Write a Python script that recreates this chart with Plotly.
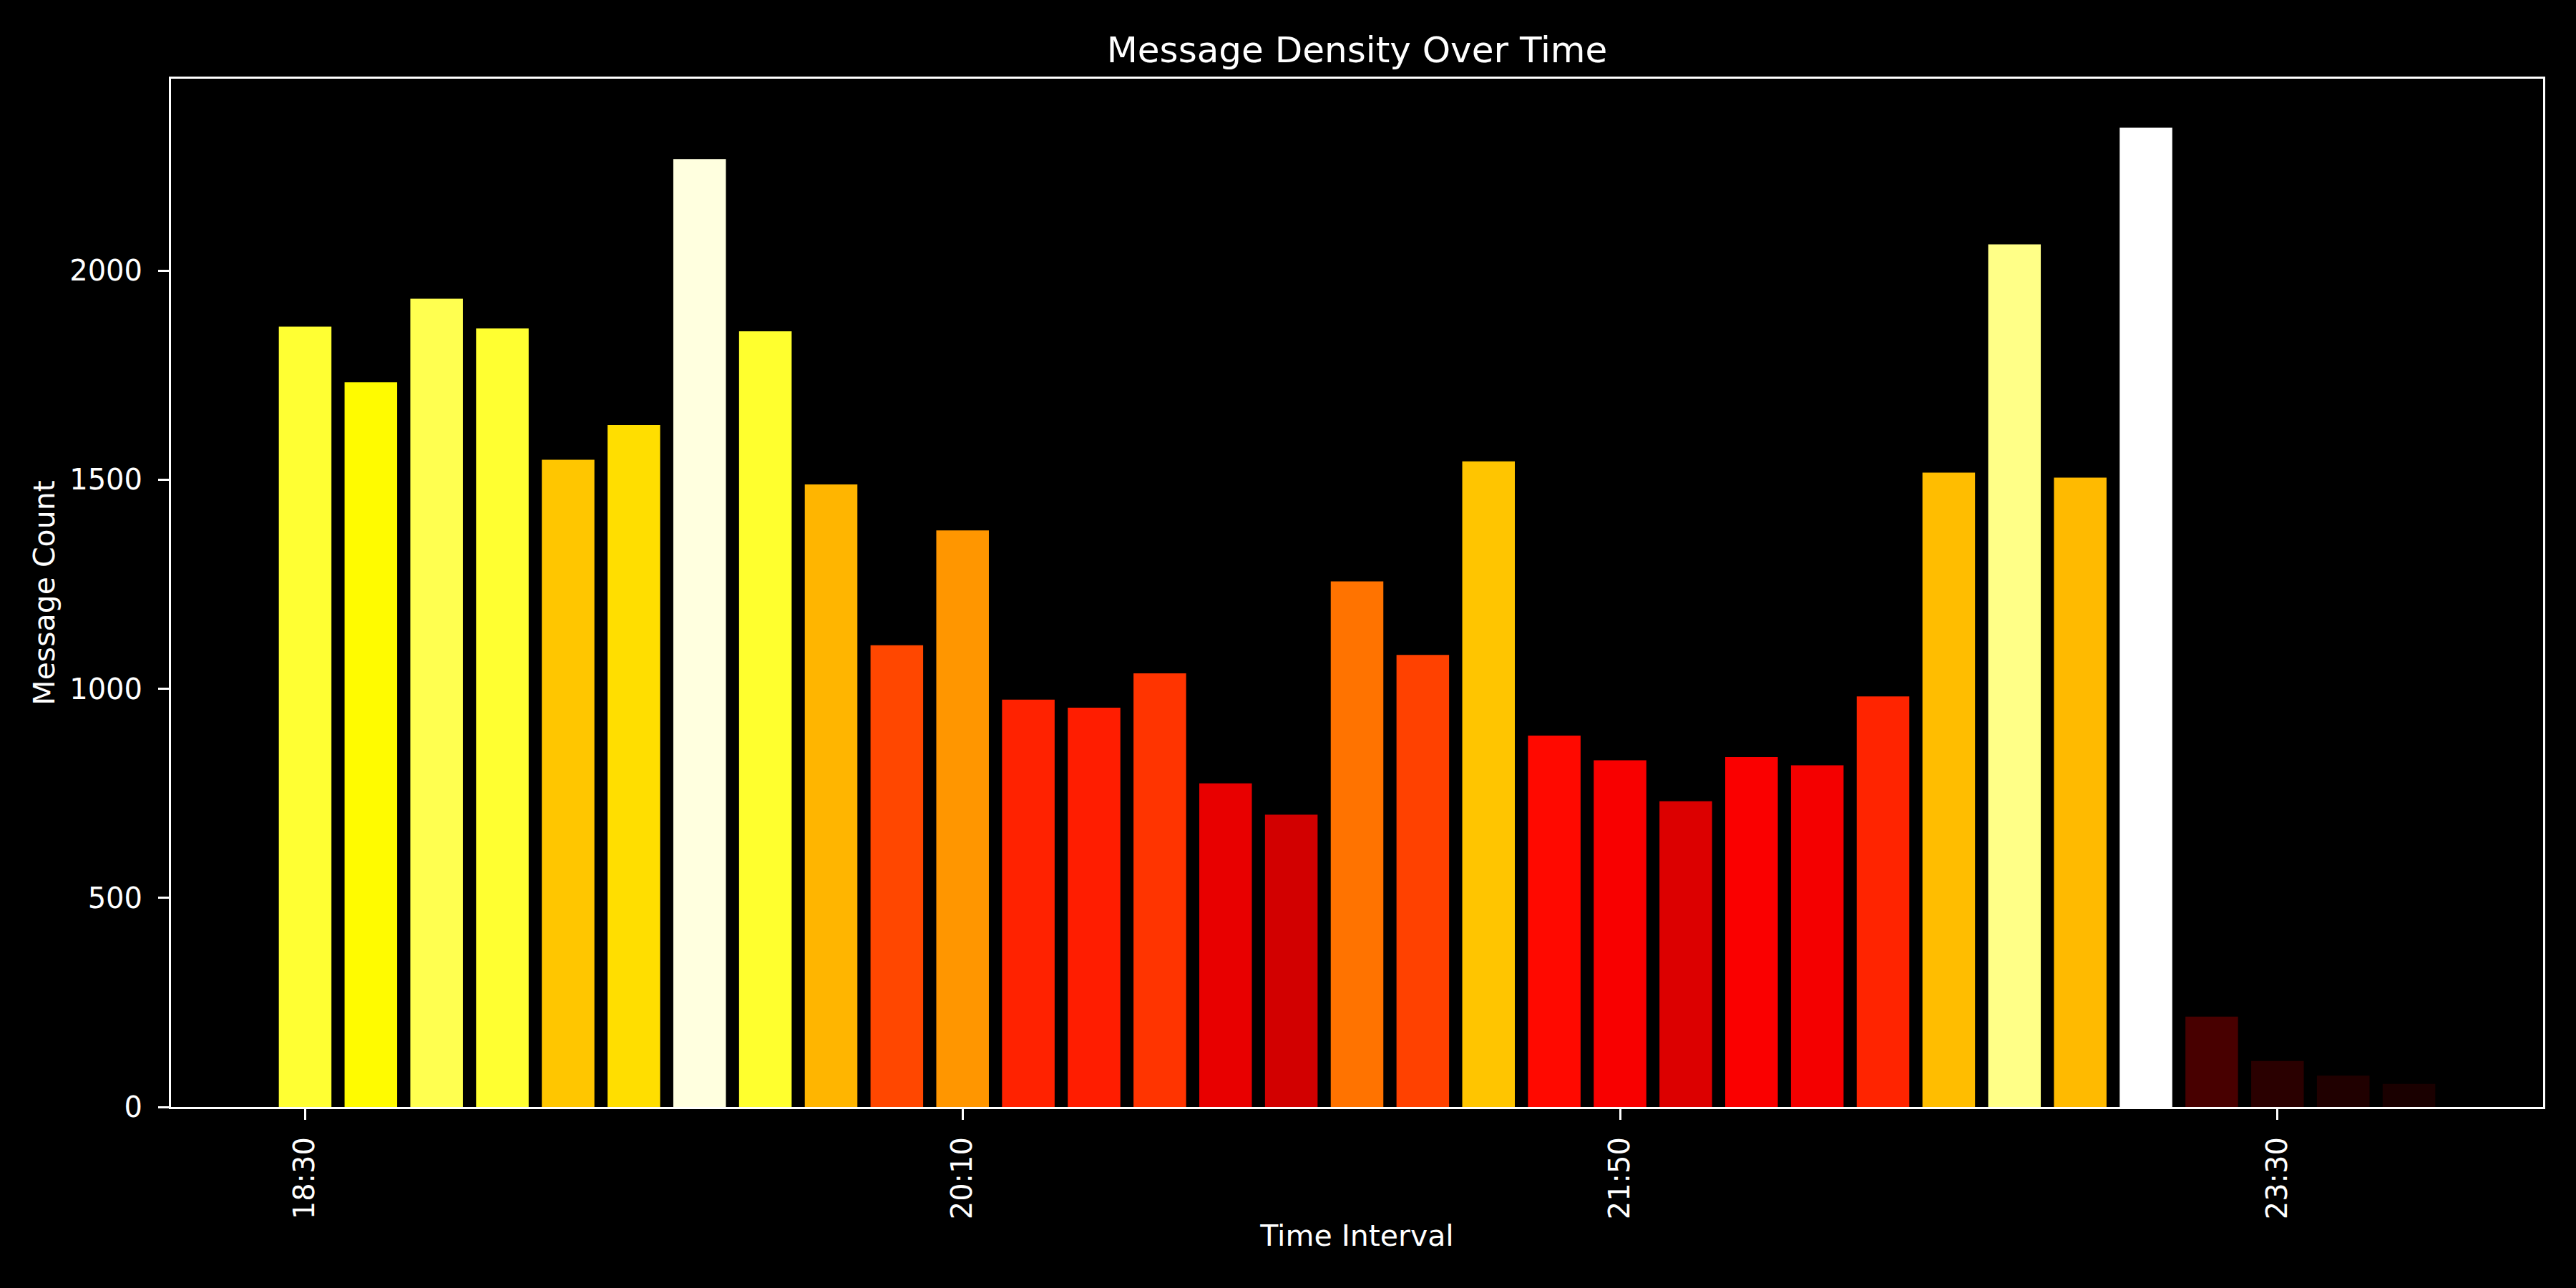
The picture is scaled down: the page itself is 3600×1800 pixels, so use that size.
"""Message density bar chart, hot colormap on a black background."""

import plotly.graph_objects as go

TIME_LABELS = [
    "18:30", "18:40", "18:50", "19:00", "19:10", "19:20", "19:30", "19:40",
    "19:50", "20:00", "20:10", "20:20", "20:30", "20:40", "20:50", "21:00",
    "21:10", "21:20", "21:30", "21:40", "21:50", "22:00", "22:10", "22:20",
    "22:30", "22:40", "22:50", "23:00", "23:10", "23:20", "23:30", "23:40",
    "23:50",
]
MESSAGE_COUNTS = [
    1866, 1733, 1933, 1862, 1548, 1631, 2267, 1855, 1489, 1104, 1379,
    974, 955, 1037, 774, 699, 1257, 1081, 1544, 888, 829, 731, 837, 817,
    982, 1517, 2063, 1505, 2342, 216, 110, 75, 55,
]
TICK_LABELS = ["18:30", "20:10", "21:50", "23:30"]

FONT = "DejaVu Sans"


def _interp(x, points):
    for (x0, y0), (x1, y1) in zip(points, points[1:]):
        if x <= x1:
            return y0 + (y1 - y0) * (x - x0) / (x1 - x0)
    return points[-1][1]


def hot_color(frac):
    # matplotlib "hot" colormap segments
    r = _interp(frac, [(0.0, 0.0416), (0.365079, 1.0), (1.0, 1.0)])
    g = _interp(frac, [(0.0, 0.0), (0.365079, 0.0), (0.746032, 1.0), (1.0, 1.0)])
    b = _interp(frac, [(0.0, 0.0), (0.746032, 0.0), (1.0, 1.0)])
    return f"rgb({round(r * 255)},{round(g * 255)},{round(b * 255)})"


peak = max(MESSAGE_COUNTS)
colors = [hot_color(v / peak) for v in MESSAGE_COUNTS]

fig = go.Figure(
    go.Bar(
        x=TIME_LABELS,
        y=MESSAGE_COUNTS,
        marker=dict(color=colors, line=dict(width=0)),
        width=0.8,
    )
)

axis_common = dict(
    showline=True,
    linecolor="white",
    linewidth=3,
    mirror=True,
    ticks="outside",
    ticklen=15,
    tickwidth=3,
    tickcolor="white",
    showgrid=False,
    zeroline=False,
    tickfont=dict(family=FONT, size=40, color="white"),
)

fig.update_layout(
    width=3600,
    height=1800,
    paper_bgcolor="black",
    plot_bgcolor="black",
    margin=dict(l=239, r=46, t=110, b=253),
    showlegend=False,
    bargap=0.2,
    title=dict(
        text="Message Density Over Time",
        x=0.5,
        xanchor="center",
        xref="paper",
        y=1 - 69 / 1800,
        yref="container",
        yanchor="middle",
        font=dict(family=FONT, size=50, color="white"),
    ),
    xaxis=dict(
        **axis_common,
        type="category",
        range=[-2.04, len(TIME_LABELS) + 1.04],
        tickmode="array",
        tickvals=TICK_LABELS,
        ticktext=TICK_LABELS,
        tickangle=-90,
        ticklabelstandoff=8,
        title=dict(
            text="Time Interval",
            font=dict(family=FONT, size=41, color="white"),
            standoff=10,
        ),
    ),
    yaxis=dict(
        **axis_common,
        range=[0, peak * 1.05],
        tickmode="array",
        tickvals=[0, 500, 1000, 1500, 2000],
        ticklabelstandoff=14,
        title=dict(
            text="Message Count",
            font=dict(family=FONT, size=41, color="white"),
            standoff=8,
        ),
    ),
)

# drop the page's default white margin around the plot
fig.write_html(
    "out.html",
    config={"displayModeBar": False},
    post_script="document.body.style.margin='0';document.body.style.background='black';",
)
